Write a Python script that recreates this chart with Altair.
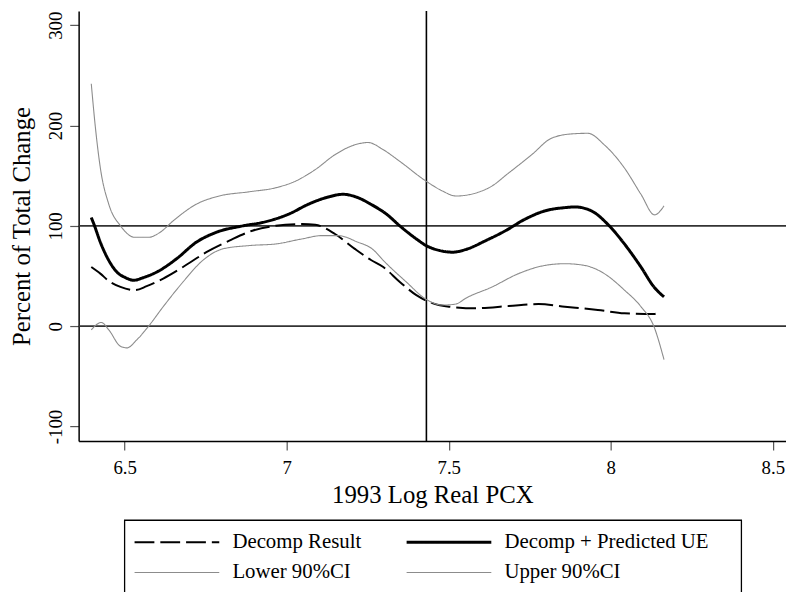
import altair as alt
import pandas as pd

SERIES = ["Decomp Result", "Decomp + Predicted UE", "Lower 90%CI", "Upper 90%CI"]

decomp_x = [6.397, 6.425, 6.451, 6.487, 6.532, 6.568, 6.619, 6.68, 6.752, 6.823, 6.894, 6.966,
            7.047, 7.088, 7.149, 7.21, 7.26, 7.298, 7.349, 7.4, 7.451, 7.501, 7.583, 7.685,
            7.777, 7.858, 7.96, 8.042, 8.133, 8.143]
decomp_y = [59, 52.4, 45.1, 39.2, 36, 39.9, 47.5, 59, 73.8, 85.3, 95.2, 100.1,
            101.8, 101.1, 91.9, 77.1, 66, 59, 44.1, 31, 22.8, 19.5, 17.9, 20.1,
            22.1, 19.5, 16.2, 12.9, 12.2, 12.9]

pred_x = [6.397, 6.405, 6.425, 6.451, 6.476, 6.502, 6.528, 6.558, 6.599, 6.66, 6.721, 6.782,
          6.864, 6.925, 7.006, 7.067, 7.128, 7.174, 7.22, 7.26, 7.308, 7.349, 7.4, 7.43,
          7.471, 7.512, 7.552, 7.614, 7.675, 7.736, 7.797, 7.858, 7.889, 7.94, 7.99, 8.042,
          8.093, 8.133, 8.164]
pred_y = [108.3, 101.8, 83.7, 65.6, 54, 48.5, 45.8, 48.5, 54, 67.2, 83.7, 93.5,
          100, 103.4, 111.7, 121.6, 128.8, 131.5, 128.1, 121.5, 111.7, 100, 87, 80.4,
          75.5, 73.8, 76.4, 85.3, 95.2, 106.8, 115, 118.2, 118.9, 115, 101.8, 82,
          59, 39.2, 29.3]

lower_x = [6.397, 6.428, 6.451, 6.487, 6.507, 6.538, 6.573, 6.619, 6.68, 6.741, 6.803, 6.884,
           6.966, 7.047, 7.108, 7.159, 7.22, 7.26, 7.308, 7.369, 7.43, 7.481, 7.522, 7.552,
           7.634, 7.715, 7.797, 7.858, 7.919, 7.98, 8.042, 8.093, 8.133, 8.164]
lower_y = [-3.6, 3.7, -3.6, -20, -21.6, -13.4, -0.3, 19.5, 44.1, 65.6, 77.1, 80.4,
           82, 87, 90.3, 90.3, 83.7, 78, 62.3, 44.1, 26.8, 21.1, 22.1, 27.8,
           39.2, 52.4, 60.6, 62.3, 60.6, 52.4, 36, 19.5, -0.3, -33.2]

upper_x = [6.397, 6.41, 6.425, 6.451, 6.487, 6.532, 6.573, 6.609, 6.65, 6.721, 6.792, 6.884,
           6.966, 7.027, 7.088, 7.149, 7.21, 7.251, 7.298, 7.349, 7.43, 7.481, 7.522, 7.624,
           7.685, 7.756, 7.817, 7.879, 7.929, 7.98, 8.042, 8.093, 8.135, 8.164]
upper_y = [241.7, 197.2, 157.7, 121.6, 100.1, 88.6, 88.6, 93.5, 105.1, 121.6, 129.8, 134,
           138, 144.6, 156.1, 171, 180.8, 183.1, 175.9, 164.3, 144.6, 134.7, 129.8, 138,
           152.8, 171, 187.4, 191.7, 192.3, 180.8, 157.7, 131.5, 111, 119.9]

ref_h = [0, 100]
ref_v = [7.431]
x_ticks = [6.5, 7, 7.5, 8, 8.5]
y_ticks = [-100, 0, 100, 200, 300]

rows = []
for name, xs, ys in [(SERIES[0], decomp_x, decomp_y), (SERIES[1], pred_x, pred_y),
                     (SERIES[2], lower_x, lower_y), (SERIES[3], upper_x, upper_y)]:
    for a, b in zip(xs, ys):
        rows.append({"series": name, "x": a, "y": b})
df = pd.DataFrame(rows)

FONT = "Liberation Serif"
xscale = alt.Scale(domain=[6.358, 8.5405], nice=False, zero=False)
yscale = alt.Scale(domain=[-114.4, 314.2], nice=False, zero=False)

xaxis = alt.Axis(values=x_ticks, labelExpr="'' + datum.value", title="1993 Log Real PCX",
                 titleX=357, titleY=61.7, titleAlign="center", titleBaseline="alphabetic",
                 labelBaseline="alphabetic", labelPadding=23.7, labelFlush=False,
                 labelOverlap=False, grid=False, labelFont=FONT)
yaxis = alt.Axis(values=y_ticks, labelExpr="'' + datum.value", labelAngle=270,
                 labelAlign="center", labelBaseline="alphabetic", labelPadding=8.6,
                 title="Percent of Total Change", titleAngle=270, titleX=-49.3, titleY=217,
                 titleAlign="center", titleBaseline="alphabetic", grid=False,
                 labelOverlap=False, labelFont=FONT)

legend = alt.Legend(title=None, orient="none", legendX=54.7, legendY=525.2, columns=2,
                    direction="horizontal",
                    symbolType="stroke", symbolSize=7310, clipHeight=22, rowPadding=8.6,
                    columnPadding=43.6, labelOffset=11.5, labelFont=FONT, labelFontSize=21,
                    labelColor="black", labelLimit=400, padding=0)

hl = alt.Chart(pd.DataFrame({"y": ref_h})).mark_rule(color="#333333", strokeWidth=1.7).encode(
    y=alt.Y("y:Q", scale=yscale, axis=yaxis))
vl = alt.Chart(pd.DataFrame({"x": ref_v})).mark_rule(color="black", strokeWidth=1.6).encode(
    x=alt.X("x:Q", scale=xscale, axis=xaxis))

lines = alt.Chart(df).mark_line(interpolate="monotone", clip=True).encode(
    x=alt.X("x:Q", scale=xscale, axis=xaxis),
    y=alt.Y("y:Q", scale=yscale, axis=yaxis),
    color=alt.Color("series:N", scale=alt.Scale(domain=SERIES, range=["black", "black", "#8c8c8c", "#8c8c8c"]), legend=legend),
    strokeDash=alt.StrokeDash("series:N", scale=alt.Scale(domain=SERIES, range=[[20, 6], [1, 0], [1, 0], [1, 0]]), legend=legend),
    strokeWidth=alt.StrokeWidth("series:N", scale=alt.Scale(type="ordinal", domain=SERIES, range=[2, 3, 1.1, 1.1]), legend=legend),
)

box = alt.Chart(pd.DataFrame({"k": [0]})).mark_rect(filled=False, stroke="black", strokeWidth=1.3, clip=False).encode(
    x=alt.value(46.4), x2=alt.value(669), y=alt.value(514), y2=alt.value(600))

chart = alt.layer(hl, vl, lines, box).properties(
    width=714, height=434,
    padding={"left": 71.3, "top": 0.3, "right": 0, "bottom": 149.7},
    autosize=alt.AutoSizeParams(type="none"),
).configure_axis(
    domainColor="black", domainWidth=1.5, tickColor="#555555", tickWidth=1.2, tickSize=9,
    labelFont=FONT, labelFontSize=19, labelColor="black",
    titleFont=FONT, titleFontSize=25, titleFontWeight="normal", titleColor="black",
).configure_legend(labelFont=FONT).configure_view(stroke=None)

chart.save("out.html", embed_options={"renderer": "svg", "actions": False})
